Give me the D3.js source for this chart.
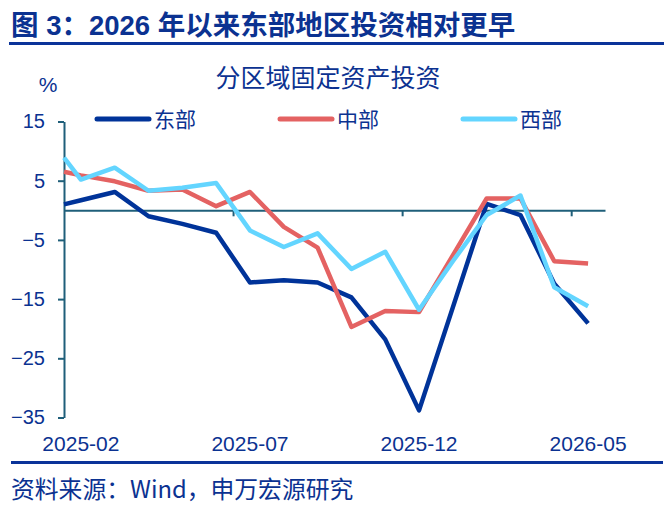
<!DOCTYPE html>
<html>
<head>
<meta charset="utf-8">
<script src="https://cdn.jsdelivr.net/npm/d3@7"></script>
<style>
  body { margin: 0; background: #fff; }
  svg text { font-family: "Liberation Sans", Arial, "Noto Sans CJK SC", sans-serif; }
  .cjk { font-family: "Noto Sans CJK SC", sans-serif; }
  .head { font-family: "Liberation Sans", Arial, "Noto Sans CJK SC", sans-serif; }
</style>
</head>
<body>
<svg id="chart" width="672" height="506"></svg>
<script>
// months: first value sits on the axis (clamped), then 2025-02 .. 2026-05
var months = ["2025-01", "2025-02", "2025-03", "2025-04", "2025-05", "2025-06", "2025-07", "2025-08",
	"2025-09", "2025-10", "2025-11", "2025-12", "2026-01", "2026-02", "2026-03", "2026-04", "2026-05"];
var east = [1.0, 1.7, 3.1, -1.0, -2.3, -3.8, -12.2, -11.8, -12.2, -14.7, -21.8, -33.8, -16.4, 1.1, -0.8, -12.4, -19.1];
var central = [6.5, 5.9, 4.9, 3.3, 3.5, 0.7, 3.1, -2.8, -6.3, -19.7, -17.0, -17.2, -7.6, 2.0, 2.0, -8.6, -9.0];
var west = [8.9, 5.2, 7.2, 3.3, 3.8, 4.6, -3.4, -6.2, -3.9, -9.9, -7.0, -16.8, -8.6, -0.8, 2.5, -13.0, -16.2];
var yTicks = [15, 5, -5, -15, -25, -35];
var xLabels = ["2025-02", "2025-07", "2025-12", "2026-05"];
var seriesNames = ["东部", "中部", "西部"];
var seriesColors = ["#003399", "#E46262", "#63D5FF"];

var svg = d3.select("#chart");
var textColor = "#0B3291";
var axisColor = "#1F5F7A";

function monthIndex (m) {
	var p = m.split("-");
	return (+p[0] - 2025) * 12 + (+p[1]) - 2;
}

var x = d3.scaleLinear().domain([-0.5, 15.5]).range([64, 605]).clamp(true);
var y = d3.scaleLinear().domain([-35, 15]).range([417.5, 121.5]);

// header
svg.append("text").attr("class", "head")
	.attr("x", 11).attr("y", 35)
	.attr("font-size", 27.5).attr("font-weight", "bold")
	.attr("fill", textColor)
	.text("图 3：2026 年以来东部地区投资相对更早");
svg.append("rect").attr("x", 9).attr("y", 42).attr("width", 655).attr("height", 3).attr("fill", "#0A3399");

svg.append("text").attr("class", "cjk")
	.attr("x", 328).attr("y", 87)
	.attr("text-anchor", "middle")
	.attr("font-size", 25)
	.attr("fill", textColor)
	.text("分区域固定资产投资");

svg.append("text")
	.attr("x", 48).attr("y", 92)
	.attr("text-anchor", "middle")
	.attr("font-size", 21)
	.attr("fill", textColor)
	.text("%");

// y axis
var yAxis = svg.append("g")
	.attr("transform", "translate(64,0)")
	.call(d3.axisLeft(y).tickValues(yTicks).tickSize(6).tickSizeOuter(0).tickFormat(d3.format("d")));
yAxis.select(".domain").attr("stroke", axisColor).attr("stroke-width", 2);
yAxis.selectAll(".tick line").attr("stroke", axisColor).attr("stroke-width", 2);
yAxis.selectAll(".tick text")
	.attr("fill", textColor)
	.attr("font-size", 20)
	.attr("x", -19)
	.style("font-family", "'Liberation Sans', Arial, sans-serif");

// x axis on zero line, ticks at category boundaries
var xAxis = svg.append("g")
	.attr("transform", "translate(0," + y(0) + ")")
	.call(d3.axisBottom(x).tickValues([4.5, 9.5, 14.5]).tickSize(6).tickSizeOuter(0).tickFormat(""));
xAxis.select(".domain").attr("stroke", axisColor).attr("stroke-width", 2);
xAxis.selectAll(".tick line").attr("stroke", axisColor).attr("stroke-width", 2);

svg.selectAll(".xlab")
	.data(xLabels)
	.enter().append("text")
	.attr("class", "xlab")
	.attr("x", function (d) { return x(monthIndex(d)); })
	.attr("y", 451)
	.attr("text-anchor", "middle")
	.attr("font-size", 21)
	.attr("fill", textColor)
	.text(function (d) { return d; });

// lines
var allSeries = [east, central, west];
var line = d3.line()
	.x(function (d, i) { return x(monthIndex(months[i])); })
	.y(function (d) { return y(d); });

for (var s = 0; s < allSeries.length; ++s) {
	svg.append("path")
		.datum(allSeries[s])
		.attr("fill", "none")
		.attr("stroke", seriesColors[s])
		.attr("stroke-width", 4.5)
		.attr("stroke-linejoin", "round")
		.attr("d", line);
}

// legend
var legendX = [97, 280, 463];
for (var k = 0; k < seriesNames.length; ++k) {
	svg.append("line")
		.attr("x1", legendX[k]).attr("x2", legendX[k] + 52)
		.attr("y1", 119).attr("y2", 119)
		.attr("stroke", seriesColors[k])
		.attr("stroke-width", 5)
		.attr("stroke-linecap", "round");
	svg.append("text").attr("class", "cjk")
		.attr("x", legendX[k] + 57).attr("y", 127)
		.attr("font-size", 21)
		.attr("fill", textColor)
		.text(seriesNames[k]);
}

// footer
svg.append("rect").attr("x", 11).attr("y", 461).attr("width", 652).attr("height", 3).attr("fill", "#0A3399");
svg.append("text").attr("class", "cjk")
	.attr("x", 11).attr("y", 498)
	.attr("font-size", 23.8)
	.attr("fill", textColor)
	.text("资料来源：Wind，申万宏源研究");
</script>
</body>
</html>
